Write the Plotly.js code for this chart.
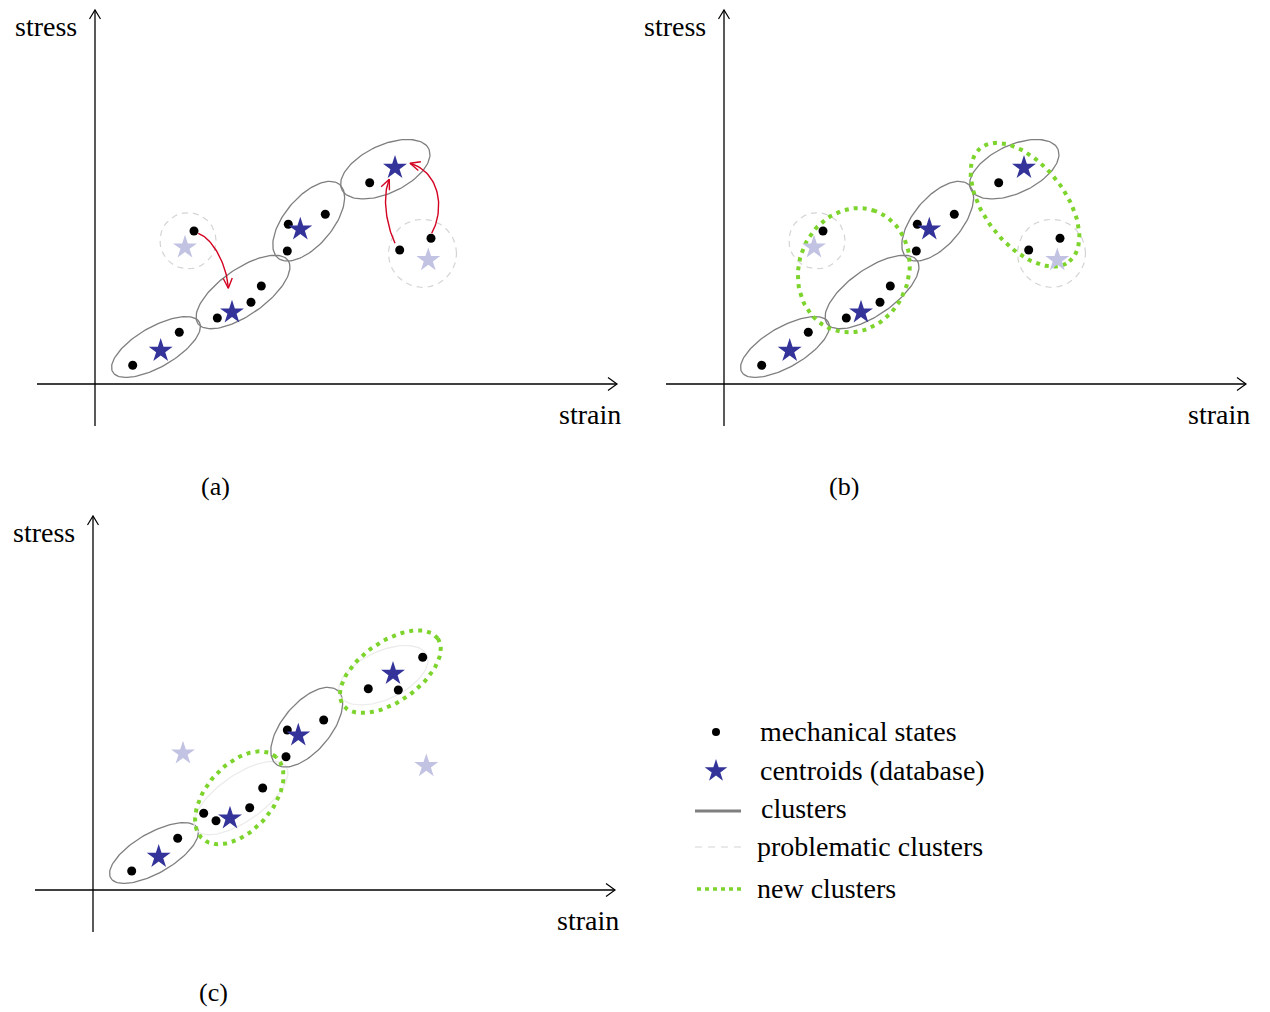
<!DOCTYPE html>
<html><head><meta charset="utf-8">
<script src="https://cdn.plot.ly/plotly-3.0.1.min.js"></script>
<style>body{margin:0;background:#fff}</style>
</head><body><div id="chart" style="width:1270px;height:1012px"></div>
<script>
// ---- data (coordinates relative to each panel origin: x = strain, y = stress) ----
const statesA_x = [37.7, 84.3, 122.3, 156, 166.3, 99, 192.3, 193.3, 230.3, 274.7, 304.7, 336];
const statesA_y = [18.7, 51.7, 66, 81.7, 98, 153, 133, 159.7, 169.7, 201.3, 134, 145.7];
const statesC_x = [38.7, 84.7, 110.7, 123, 156.7, 169.7, 193, 194.3, 230.7, 275.3, 305.3, 329.7];
const statesC_y = [19, 51.7, 76.7, 69.3, 82.3, 102, 133.3, 160, 170, 201.3, 200, 232.7];
const centroid_x = [65.7, 137, 205.3, 300];
const centroid_y = [33.3, 71.7, 154.7, 216.3];
const orphan_x = [90, 333.3];
const orphan_y = [136.7, 124];
// cluster ellipses: centre, semi-axes, angle (deg)
const cluster_cx = [61, 148, 213.7, 290.3];
const cluster_cy = [37, 92, 162.8, 214.8];
const cluster_a = [50, 55, 48, 48];
const cluster_b = [20, 23, 24, 24];
const cluster_ang = [30, 35, 50, 25];
const problem_cx = [93, 327.5];
const problem_cy = [143.3, 130.7];
const problem_r = [28, 34];
const newB_cx = [129.8, 301];
const newB_cy = [113.8, 179.3];
const newB_a = [63, 72];
const newB_b = [55, 40];
const newB_ang = [70, -52];
const newC_cx = [146.3, 297.3];
const newC_cy = [92.2, 218.3];
const newC_a = [55, 58];
const newC_b = [33, 30];
const newC_ang = [48, 35];
const fadedC = [1, 3]; // indices of clusters replaced in (c)
// reassignment arrows in (a): start, end, and two bend points
const arrow_x0 = [103.3, 300, 336.7];
const arrow_y0 = [150.7, 140.7, 150.7];
const arrow_x1 = [133.3, 294.3, 315];
const arrow_y1 = [95.7, 204.7, 220.7];
const bend1_x = [117, 291, 350];
const bend1_y = [146, 160, 175];
const bend2_x = [132, 287, 345];
const bend2_y = [120, 188, 212];
const panelLabels = ['(a)', '(b)', '(c)'];
const legendLabels = ['mechanical states', 'centroids (database)', 'clusters', 'problematic clusters', 'new clusters'];

// ---- styles ----
const FONT = 'Liberation Serif, Times New Roman, serif';
const GRAY = '#7f7f7f', LIGHT = '#d4d4d4', FADED = '#ececec', GREEN = '#7cd42c', BLUE = '#333399', LBLUE = '#c2c2e2', RED = '#d40020';
const STAR = 18, DOT = 9;

function ellipse(cx, cy, a, b, angDeg) {
  const t = angDeg * Math.PI / 180, xs = [], ys = [];
  for (let i = 0; i <= 120; i++) {
    const u = 2 * Math.PI * i / 120;
    xs.push(cx + a * Math.cos(u) * Math.cos(t) - b * Math.sin(u) * Math.sin(t));
    ys.push(cy + a * Math.cos(u) * Math.sin(t) + b * Math.sin(u) * Math.cos(t));
  }
  return [xs, ys];
}
function head(tx, ty, dx, dy, len, half) {
  const n = Math.hypot(dx, dy), ux = dx / n, uy = dy / n;
  const bx = tx - ux * len, by = ty - uy * len;
  return [[bx - uy * half, tx, bx + uy * half], [by + ux * half, ty, by - ux * half]];
}
const traces = [];
function line(xs, ys, ax, color, width, dash) {
  traces.push({x: xs, y: ys, xaxis: ax[0], yaxis: ax[1], mode: 'lines', hoverinfo: 'skip',
    line: {color: color, width: width, dash: dash || 'solid'}});
}
function marks(xs, ys, ax, symbol, color, size) {
  traces.push({x: xs, y: ys, xaxis: ax[0], yaxis: ax[1], mode: 'markers', hoverinfo: 'skip',
    marker: {symbol: symbol, color: color, size: size, line: {width: 0}}});
}
function axesArrows(ax) {
  line([-58, 522], [0, 0], ax, '#000', 1.3);
  line([0, 0], [-42, 374], ax, '#000', 1.3);
  let h = head(522, 0, 1, 0, 9, 6.5); line(h[0], h[1], ax, '#000', 1.2);
  h = head(0, 374, 0, 1, 9, 5.5); line(h[0], h[1], ax, '#000', 1.2);
}
const GREEN_DASH = '4px,5px';
const panels = [['x', 'y'], ['x2', 'y2'], ['x3', 'y3']];

// panel (a) and (b)
[0, 1].forEach(p => {
  const ax = panels[p];
  axesArrows(ax);
  for (let i = 0; i < cluster_cx.length; i++) {
    const e = ellipse(cluster_cx[i], cluster_cy[i], cluster_a[i], cluster_b[i], cluster_ang[i]);
    line(e[0], e[1], ax, GRAY, 1.3);
  }
  for (let i = 0; i < problem_cx.length; i++) {
    const e = ellipse(problem_cx[i], problem_cy[i], problem_r[i], problem_r[i], 0);
    line(e[0], e[1], ax, LIGHT, 1.2, '6px,5px');
  }
  if (p === 1) {
    for (let i = 0; i < newB_cx.length; i++) {
      const e = ellipse(newB_cx[i], newB_cy[i], newB_a[i], newB_b[i], newB_ang[i]);
      line(e[0], e[1], ax, GREEN, 4, GREEN_DASH);
    }
  }
  if (p === 0) {
    for (let i = 0; i < arrow_x0.length; i++) {
      const xs = [], ys = [];
      for (let k = 0; k <= 40; k++) {
        const s = k / 40, m = 1 - s;
        xs.push(m*m*m*arrow_x0[i] + 3*m*m*s*bend1_x[i] + 3*m*s*s*bend2_x[i] + s*s*s*arrow_x1[i]);
        ys.push(m*m*m*arrow_y0[i] + 3*m*m*s*bend1_y[i] + 3*m*s*s*bend2_y[i] + s*s*s*arrow_y1[i]);
      }
      line(xs, ys, ax, RED, 1.4);
      const h = head(arrow_x1[i], arrow_y1[i], arrow_x1[i] - bend2_x[i], arrow_y1[i] - bend2_y[i], 10, 4.5);
      line(h[0], h[1], ax, RED, 1.4);
    }
  }
  marks(orphan_x, orphan_y, ax, 'star', LBLUE, STAR);
  marks(statesA_x, statesA_y, ax, 'circle', '#000', DOT);
  marks(centroid_x, centroid_y, ax, 'star', BLUE, STAR);
});

// panel (c)
(function () {
  const ax = panels[2];
  axesArrows(ax);
  for (let i = 0; i < cluster_cx.length; i++) {
    const e = ellipse(cluster_cx[i], cluster_cy[i], cluster_a[i], cluster_b[i], cluster_ang[i]);
    line(e[0], e[1], ax, fadedC.includes(i) ? FADED : GRAY, 1.3);
  }
  for (let i = 0; i < newC_cx.length; i++) {
    const e = ellipse(newC_cx[i], newC_cy[i], newC_a[i], newC_b[i], newC_ang[i]);
    line(e[0], e[1], ax, GREEN, 4, GREEN_DASH);
  }
  marks(orphan_x, orphan_y, ax, 'star', LBLUE, STAR);
  marks(statesC_x, statesC_y, ax, 'circle', '#000', DOT);
  marks(centroid_x, centroid_y, ax, 'star', BLUE, STAR);
})();

// legend (pixel coordinates on its own axes)
const L = ['x4', 'y4'];
marks([716], [732], L, 'circle', '#000', 8);
marks([716], [771], L, 'star', BLUE, 17);
line([695, 741], [811, 811], L, GRAY, 3);
line([695, 741], [847, 847], L, LIGHT, 1.2, '7px,6px');
line([697, 741], [889, 889], L, GREEN, 3.5, '4px,4px');

const annotations = [];
panels.forEach((ax, p) => {
  annotations.push({xref: ax[0], yref: ax[1], x: -16, y: 358, text: 'stress', showarrow: false, xanchor: 'right', yanchor: 'middle', font: {family: FONT, size: 28, color: '#000'}});
  annotations.push({xref: ax[0], yref: ax[1], x: 495, y: -30, text: 'strain', showarrow: false, xanchor: 'center', yanchor: 'middle', font: {family: FONT, size: 28, color: '#000'}});
  annotations.push({xref: ax[0], yref: ax[1], x: 120, y: -102, text: panelLabels[p], showarrow: false, xanchor: 'center', yanchor: 'middle', font: {family: FONT, size: 26, color: '#000'}});
});
const legX = [758, 758, 759, 755, 755];
const legY = [731, 770, 808, 846, 888];
legendLabels.forEach((t, i) => {
  annotations.push({xref: 'x4', yref: 'y4', x: legX[i], y: legY[i], text: t, showarrow: false, xanchor: 'left', yanchor: 'middle', font: {family: FONT, size: 28, color: '#000'}});
});

const hid = {visible: false, showgrid: false, zeroline: false, fixedrange: true, autorange: false};
const layout = {
  width: 1270, height: 1012, margin: {l: 0, r: 0, t: 0, b: 0, pad: 0},
  paper_bgcolor: '#fff', plot_bgcolor: '#fff', showlegend: false,
  xaxis:  Object.assign({}, hid, {domain: [0, 0.5], range: [-95, 540], anchor: 'y'}),
  yaxis:  Object.assign({}, hid, {domain: [0.5, 1], range: [-122, 384], anchor: 'x'}),
  xaxis2: Object.assign({}, hid, {domain: [0.5, 1], range: [-89, 546], anchor: 'y2'}),
  yaxis2: Object.assign({}, hid, {domain: [0.5, 1], range: [-122, 384], anchor: 'x2'}),
  xaxis3: Object.assign({}, hid, {domain: [0, 0.5], range: [-93, 542], anchor: 'y3'}),
  yaxis3: Object.assign({}, hid, {domain: [0, 0.5], range: [-122, 384], anchor: 'x3'}),
  xaxis4: Object.assign({}, hid, {domain: [0.5, 1], range: [635, 1270], anchor: 'y4'}),
  yaxis4: Object.assign({}, hid, {domain: [0, 0.5], range: [1012, 506], anchor: 'x4'}),
  annotations: annotations
};
Plotly.newPlot('chart', traces, layout, {staticPlot: true, displayModeBar: false});
</script></body></html>
